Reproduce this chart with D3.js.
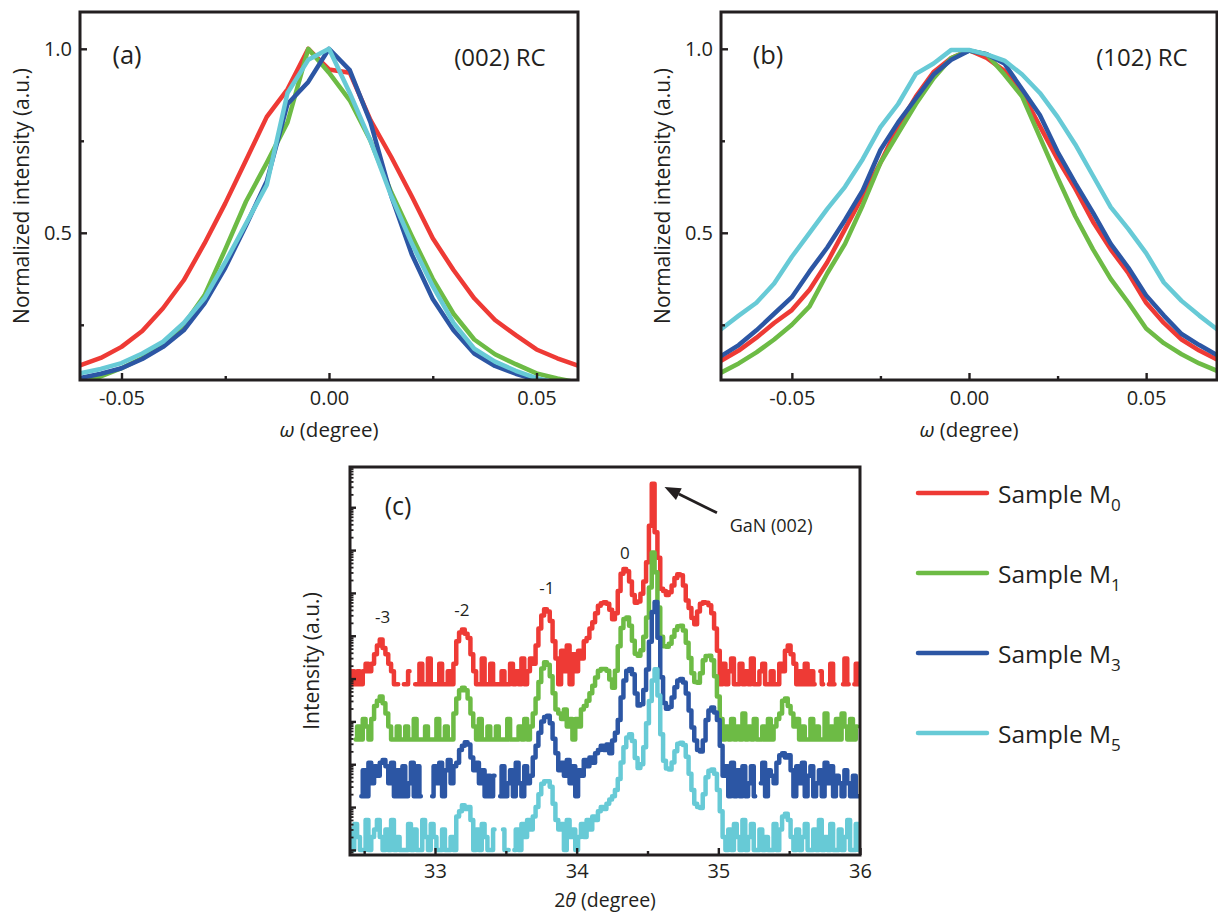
<!DOCTYPE html>
<html>
<head>
<meta charset="utf-8">
<script src="https://cdn.jsdelivr.net/npm/d3@7"></script>
<style>
  body { margin: 0; background: #fff; }
  text { font-family: "Open Sans", "Noto Sans", sans-serif; fill: #231f20; }
</style>
</head>
<body>
<svg id="fig" width="1218" height="913"></svg>
<script>
// ---------- samples ----------
const sampleNames = ["0", "1", "3", "5"];               // subscripts of M
const sampleColors = ["#ee3a35", "#6dbb45", "#2c56a4", "#67cad6"];

// ---------- (a) (002) rocking curves ----------
const omegaA = [-0.06,-0.055,-0.05,-0.045,-0.04,-0.035,-0.03,-0.025,-0.02,-0.015,-0.01,-0.005,0,
                0.005,0.01,0.015,0.02,0.025,0.03,0.035,0.04,0.045,0.05,0.055,0.06];
const rc002M0 = [0.14,0.16,0.19,0.233,0.295,0.371,0.471,0.58,0.697,0.815,0.89,1.0,0.944,
                 0.935,0.806,0.706,0.598,0.485,0.399,0.322,0.263,0.222,0.183,0.159,0.139];
const rc002M1 = [0.09,0.11,0.132,0.16,0.198,0.25,0.33,0.455,0.585,0.69,0.8,1.0,0.935,
                 0.86,0.75,0.61,0.49,0.375,0.28,0.21,0.17,0.143,0.118,0.104,0.093];
const rc002M3 = [0.105,0.117,0.132,0.157,0.19,0.235,0.308,0.405,0.52,0.64,0.85,0.91,1.0,
                 0.942,0.8,0.6,0.44,0.32,0.235,0.172,0.138,0.117,0.1,0.088,0.08];
const rc002M5 = [0.118,0.13,0.146,0.172,0.204,0.255,0.322,0.42,0.525,0.63,0.88,0.97,1.0,
                 0.88,0.75,0.6,0.47,0.355,0.255,0.185,0.15,0.125,0.105,0.092,0.085];
const ticksA = [-0.05, 0, 0.05];
const tickLabelsA = ["-0.05", "0.00", "0.05"];
const minorA = [-0.025, 0.025];

// ---------- (b) (102) rocking curves ----------
const omegaB = [-0.07,-0.065,-0.06,-0.055,-0.05,-0.045,-0.04,-0.035,-0.03,-0.025,-0.02,-0.015,-0.01,-0.005,0,
                0.005,0.01,0.015,0.02,0.025,0.03,0.035,0.04,0.045,0.05,0.055,0.06,0.065,0.07];
const rc102M0 = [0.152,0.18,0.215,0.255,0.29,0.345,0.42,0.51,0.6,0.69,0.79,0.87,0.937,0.975,0.996,
                 0.975,0.94,0.88,0.79,0.7,0.62,0.53,0.455,0.39,0.31,0.255,0.21,0.18,0.156];
const rc102M1 = [0.12,0.145,0.175,0.21,0.25,0.3,0.39,0.47,0.575,0.69,0.77,0.85,0.92,0.975,0.995,
                 0.985,0.93,0.87,0.76,0.65,0.545,0.455,0.375,0.31,0.24,0.2,0.17,0.145,0.125];
const rc102M3 = [0.165,0.195,0.235,0.28,0.325,0.395,0.46,0.535,0.615,0.725,0.8,0.865,0.93,0.97,0.995,
                 0.985,0.96,0.89,0.82,0.72,0.635,0.555,0.47,0.405,0.33,0.275,0.225,0.195,0.168];
const rc102M5 = [0.238,0.275,0.31,0.362,0.435,0.5,0.565,0.625,0.7,0.787,0.85,0.932,0.96,0.997,0.997,
                 0.985,0.968,0.93,0.88,0.815,0.74,0.655,0.57,0.51,0.445,0.365,0.315,0.275,0.238];
const ticksB = [-0.05, 0, 0.05];
const tickLabelsB = ["-0.05", "0.00", "0.05"];
const minorB = [-0.025, 0.025];

const ticksRC = [0.5, 1.0];
const tickLabelsRC = ["0.5", "1.0"];
const minorRC = [0.25, 0.75];

// ---------- (c) 2θ-ω scans (counts, step scan) ----------
const scanStart = 32.40, scanStep = 0.02;
const xrdM0 = [1,2,1,2,1,2,3,2,3,5, 8,11,7,5,3,2,1,1,0,1, 1,2,0,1,1,3,1,1,4,1, 1,1,3,1,1,2,1,3,10,16,
  19,15,12,5,2,1,1,4,1,1, 3,1,1,1,2,1,1,3,1,2, 1,4,1,2,4,3,8,20,40,56, 50,30,10,4,1,6,2,8,1,5,
  2,6,4,10,12,20,28,45,68,78, 82,75,55,33,45,150,380,490,430,250, 120,80,85,130,250,700,5000,48000,3500,900,
  170,150,120,140,200,300,370,350,200,90, 60,35,25,50,75,82,80,70,45,20, 6,1,3,1,2,4,1,1,3,1,
  2,1,4,1,1,2,3,1,1,2, 1,1,3,2,6,8,5,3,1,2, 1,3,1,2,1,0,2,1,0,1, 3,1,0,0,1,4,1,0,1,3, 1];
const xrdM1 = [0,0,1,2,1,3,2,1,3,6, 8,10,7,4,2,1,1,2,1,1, 2,1,1,3,1,1,1,2,1,1, 1,3,1,1,2,1,1,4,9,14,
  16,14,9,4,2,1,3,1,1,2, 1,1,2,1,1,1,3,1,1,1, 2,1,3,1,2,4,9,22,45,63, 55,30,12,5,4,3,5,2,3,1,
  3,2,5,6,8,12,18,28,40,44, 44,40,25,16,40,150,400,650,700,450, 200,100,90,120,250,700,3500,23000,8000,1200,
  250,150,145,170,250,360,440,450,350,180, 80,35,22,21,35,70,88,90,70,30, 10,3,1,2,1,3,1,2,1,4,
  1,2,1,3,1,1,2,1,3,1, 2,3,4,8,9,6,4,2,3,1, 2,1,1,3,1,2,1,1,4,1, 2,1,3,1,4,2,1,3,1,2, 0];
const xrdM3 = [0,0,0,0,1,4,1,6,2,5, 3,6,7,5,2,6,1,4,1,5, 1,2,6,1,5,1,0,0,0,1, 5,2,6,1,4,7,2,5,6,12,
  15,18,16,8,4,6,2,4,1,3, 1,3,0,1,5,1,2,4,1,6, 2,1,5,2,3,8,15,30,55,70, 75,50,22,10,4,6,3,7,2,5,
  1,4,3,7,5,8,6,10,12,15, 12,16,10,20,30,60,200,500,850,930, 700,250,130,140,300,900,4000,20000,34000,5000,
  600,150,110,120,200,350,500,540,450,250, 100,40,20,12,11,20,60,100,117,90, 60,15,3,5,1,6,1,4,1,5,
  1,2,5,1,0,2,6,1,4,3, 2,6,9,10,8,9,4,1,5,2, 6,1,3,5,1,2,4,1,6,2, 5,1,3,2,1,4,2,1,3,1, 1];
const xrdM5 = [3,1,4,2,1,1,5,1,2,3, 5,2,1,3,1,5,1,2,1,1, 1,4,1,3,1,1,5,2,1,4, 2,1,1,3,1,1,2,1,6,8,
  11,9,10,5,1,3,1,4,2,1, 1,3,0,0,3,1,1,0,1,3, 1,4,2,5,3,6,10,20,35,40, 40,30,12,5,3,4,1,5,2,3,
  1,2,4,2,5,3,6,5,8,10, 9,12,15,18,25,45,110,250,420,500, 350,140,82,100,250,900,3000,9000,16500,4000,
  500,120,80,75,110,200,300,316,280,150, 60,25,12,10,9.5,20,50,70,75,60, 25,8,2,1,3,1,4,2,1,5,
  1,2,4,1,1,3,1,2,1,1, 4,1,3,6,7,5,2,1,3,1, 2,4,1,1,3,1,5,1,2,1, 4,1,1,3,1,2,5,1,1,4, 1];
const stackFactor = [7400, 380, 18, 1];   // vertical shift of each scan on the log axis
const ticksC = [33, 34, 35, 36];
const tickLabelsC = ["33", "34", "35", "36"];
const minorC = [32.5, 33.5, 34.5, 35.5];
const fringeOrders = ["-3", "-2", "-1", "0"];
const fringePos = [32.63, 33.19, 33.79, 34.34];
const fringeLevel = [2.0e5, 2.9e5, 9.4e5, 6.2e6];

// ---------- drawing ----------
const ink = "#231f20";
const svg = d3.select("#fig");
svg.append("rect").attr("width", 1218).attr("height", 913).attr("fill", "#fff");

function styleAxis(sel, fontSize) {
  sel.select(".domain").remove();
  sel.selectAll(".tick line").attr("stroke", ink).attr("stroke-width", 2.4);
  sel.selectAll(".tick text").attr("font-size", fontSize).attr("fill", ink)
     .attr("font-family", '"Open Sans", sans-serif');
}

function rcPanel(o) {
  const g = svg.append("g");
  const x = d3.scaleLinear().domain(o.xDomain).range([o.left, o.right]);
  const y = d3.scaleLinear().domain([0.1, 1.1]).range([o.bottom, o.top]);
  g.append("clipPath").attr("id", o.id).append("rect")
    .attr("x", o.left).attr("y", o.top).attr("width", o.right - o.left).attr("height", o.bottom - o.top);

  const line = d3.line().x((d, i) => x(o.omega[i])).y(d => y(d));
  o.series.forEach((vals, k) => {
    g.append("path").datum(vals).attr("d", line)
      .attr("clip-path", `url(#${o.id})`)
      .attr("fill", "none").attr("stroke", sampleColors[k]).attr("stroke-width", 4.5)
      .attr("stroke-linejoin", "round").attr("stroke-linecap", "round");
  });

  const bx = g.append("g").attr("transform", `translate(0,${o.bottom})`)
    .call(d3.axisBottom(x).tickValues(o.xTicks).tickFormat((d, i) => o.xLabels[i]).tickSize(-7).tickPadding(11));
  styleAxis(bx, 20);
  const bm = g.append("g").attr("transform", `translate(0,${o.bottom})`)
    .call(d3.axisBottom(x).tickValues(o.xMinor).tickFormat("").tickSize(-4));
  styleAxis(bm, 20);
  const ly = g.append("g").attr("transform", `translate(${o.left},0)`)
    .call(d3.axisLeft(y).tickValues(ticksRC).tickFormat((d, i) => tickLabelsRC[i]).tickSize(-7).tickPadding(8));
  styleAxis(ly, 20);
  const lm = g.append("g").attr("transform", `translate(${o.left},0)`)
    .call(d3.axisLeft(y).tickValues(minorRC).tickFormat("").tickSize(-4));
  styleAxis(lm, 20);

  g.append("rect").attr("x", o.left).attr("y", o.top)
    .attr("width", o.right - o.left).attr("height", o.bottom - o.top)
    .attr("fill", "none").attr("stroke", ink).attr("stroke-width", 3);

  g.append("text").attr("x", o.left + 47).attr("y", o.top + 52).attr("text-anchor", "middle")
    .attr("font-size", 25.5).text(o.tag);
  g.append("text").attr("x", o.tagRightX).attr("y", o.top + 54).attr("text-anchor", "middle")
    .attr("font-size", 24).text(o.title);

  const xt = g.append("text").attr("x", (o.left + o.right) / 2).attr("y", o.bottom + 57)
    .attr("text-anchor", "middle").attr("font-size", 20.5);
  xt.append("tspan").attr("font-style", "italic").text("ω");
  xt.append("tspan").text(" (degree)");

  g.append("text").attr("transform", `translate(${o.left - 51},${(o.top + o.bottom) / 2}) rotate(-90)`)
    .attr("text-anchor", "middle").attr("font-size", 21).text("Normalized intensity (a.u.)");
}

rcPanel({ id: "clipA", left: 80, right: 578, top: 12, bottom: 380, xDomain: [-0.06, 0.06],
  omega: omegaA, series: [rc002M0, rc002M1, rc002M3, rc002M5],
  xTicks: ticksA, xLabels: tickLabelsA, xMinor: minorA, tag: "(a)", title: "(002) RC", tagRightX: 500 });
rcPanel({ id: "clipB", left: 721, right: 1217, top: 12, bottom: 380, xDomain: [-0.07, 0.07],
  omega: omegaB, series: [rc102M0, rc102M1, rc102M3, rc102M5],
  xTicks: ticksB, xLabels: tickLabelsB, xMinor: minorB, tag: "(b)", title: "(102) RC", tagRightX: 1142 });

// ---------- panel (c) ----------
(function () {
  const L = 350, R = 860, T = 467, B = 855;
  const g = svg.append("g");
  const x = d3.scaleLinear().domain([32.4, 36]).range([L, R]);
  const y = d3.scaleLog().domain([0.76, 8.7e8]).range([B, T]);
  g.append("clipPath").attr("id", "clipC").append("rect")
    .attr("x", L).attr("y", T).attr("width", R - L).attr("height", B - T);

  [xrdM0, xrdM1, xrdM3, xrdM5].forEach((counts, k) => {
    const line = d3.line()
      .defined(d => d > 0)
      .x((d, i) => x(scanStart + i * scanStep))
      .y(d => y(d * stackFactor[k]))
      .curve(d3.curveStep);
    g.append("path").datum(counts).attr("d", line)
      .attr("clip-path", "url(#clipC)")
      .attr("fill", "none").attr("stroke", sampleColors[k]).attr("stroke-width", 4.5)
      .attr("stroke-linejoin", "round").attr("stroke-linecap", "round");
  });

  // log ticks on the intensity axis
  const major = [], minor = [];
  for (let e = -1; e <= 9; e++) {
    for (let m = 1; m <= 9; m++) {
      const v = m * Math.pow(10, e);
      if (v < 0.76 || v > 8.7e8) continue;
      (m === 1 ? major : minor).push(v);
    }
  }
  const ly = g.append("g").attr("transform", `translate(${L},0)`)
    .call(d3.axisLeft(y).tickValues(major).tickFormat("").tickSize(-6));
  styleAxis(ly, 20);
  const lm = g.append("g").attr("transform", `translate(${L},0)`)
    .call(d3.axisLeft(y).tickValues(minor).tickFormat("").tickSize(-3.5));
  styleAxis(lm, 20);
  lm.selectAll(".tick line").attr("stroke-width", 1.8);

  const bx = g.append("g").attr("transform", `translate(0,${B})`)
    .call(d3.axisBottom(x).tickValues(ticksC).tickFormat((d, i) => tickLabelsC[i]).tickSize(-7).tickPadding(9));
  styleAxis(bx, 20);
  const bm = g.append("g").attr("transform", `translate(0,${B})`)
    .call(d3.axisBottom(x).tickValues(minorC).tickFormat("").tickSize(-4));
  styleAxis(bm, 20);

  g.append("rect").attr("x", L).attr("y", T).attr("width", R - L).attr("height", B - T)
    .attr("fill", "none").attr("stroke", ink).attr("stroke-width", 3);

  g.append("text").attr("x", L + 48).attr("y", T + 48).attr("text-anchor", "middle")
    .attr("font-size", 25).text("(c)");

  // fringe orders
  fringeOrders.forEach((t, i) => {
    g.append("text").attr("x", x(fringePos[i])).attr("y", y(fringeLevel[i]))
      .attr("text-anchor", "middle").attr("font-size", 17).text(t);
  });

  // GaN (002) arrow
  const tail = [x(34.99), y(7.4e7)], head = [x(34.62), y(2.97e8)];
  const ang = Math.atan2(head[1] - tail[1], head[0] - tail[0]);
  const hl = 16, hw = 6.5;
  const base = [head[0] - hl * Math.cos(ang), head[1] - hl * Math.sin(ang)];
  g.append("line").attr("x1", tail[0]).attr("y1", tail[1]).attr("x2", base[0]).attr("y2", base[1])
    .attr("stroke", ink).attr("stroke-width", 2.8);
  g.append("path").attr("fill", ink).attr("d",
    `M${head[0]},${head[1]}L${base[0] - hw * Math.sin(ang)},${base[1] + hw * Math.cos(ang)}` +
    `L${base[0] + hw * Math.sin(ang)},${base[1] - hw * Math.cos(ang)}Z`);
  g.append("text").attr("x", x(35.08)).attr("y", y(2.6e7)).attr("font-size", 18).text("GaN (002)");

  const xt = g.append("text").attr("x", (L + R) / 2).attr("y", B + 52)
    .attr("text-anchor", "middle").attr("font-size", 19.5);
  xt.append("tspan").text("2");
  xt.append("tspan").attr("font-style", "italic").text("θ");
  xt.append("tspan").text(" (degree)");

  g.append("text").attr("transform", `translate(${L - 31},${(T + B) / 2}) rotate(-90)`)
    .attr("text-anchor", "middle").attr("font-size", 21).text("Intensity (a.u.)");
})();

// ---------- legend ----------
const legend = svg.append("g");
sampleNames.forEach((s, k) => {
  const cy = 493 + k * 80;
  legend.append("line").attr("x1", 918).attr("x2", 987).attr("y1", cy).attr("y2", cy)
    .attr("stroke", sampleColors[k]).attr("stroke-width", 4.5).attr("stroke-linecap", "round");
  const t = legend.append("text").attr("x", 998).attr("y", cy + 10).attr("font-size", 24.5);
  t.append("tspan").text("Sample M");
  t.append("tspan").attr("font-size", 17).attr("dy", 8).text(s);
});
</script>
</body>
</html>
